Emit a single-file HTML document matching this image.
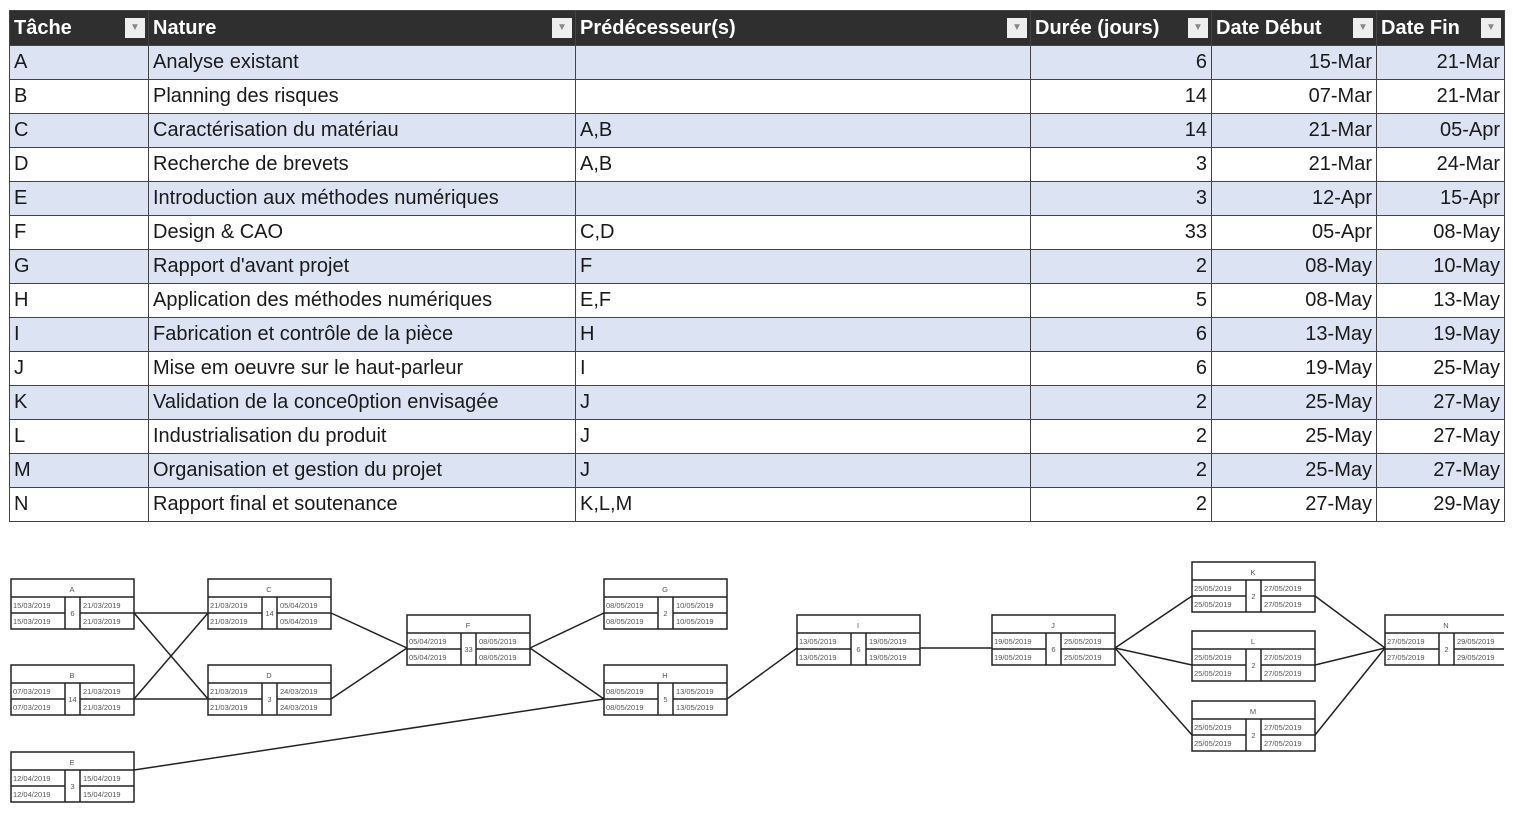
<!DOCTYPE html>
<html><head><meta charset="utf-8"><style>
body{margin:0;width:1513px;height:820px;background:#fff;overflow:hidden;position:relative;font-family:"Liberation Sans",sans-serif}
table{position:absolute;left:9px;top:10px;border-collapse:collapse;width:1495px;table-layout:fixed;font-size:20px;color:#1a1a1a}
td,th{border:1.5px solid #444;padding:0 4px;height:33px;white-space:nowrap;overflow:hidden}
th{background:#2f2f2f;color:#fff;text-align:left;font-weight:bold;height:34px;position:relative}
th span.f{position:absolute;right:3px;top:7px;width:20px;height:20px;background:#eee;color:#888;font-size:10px;text-align:center;line-height:20px}
tr:nth-child(even) td{background:#dce3f3}
td.r{text-align:right}
svg{position:absolute;left:0;top:0}
svg text{font-family:"Liberation Sans",sans-serif;font-size:7.5px;fill:#555}
</style></head><body>
<table>
<colgroup><col style="width:139px"><col style="width:427px"><col style="width:455px"><col style="width:181px"><col style="width:165px"><col style="width:128px"></colgroup>
<tr><th>Tâche<span class="f">▼</span></th><th>Nature<span class="f">▼</span></th><th>Prédécesseur(s)<span class="f">▼</span></th><th>Durée (jours)<span class="f">▼</span></th><th>Date Début<span class="f">▼</span></th><th>Date Fin<span class="f">▼</span></th></tr>
<tr><td>A</td><td>Analyse existant</td><td></td><td class="r">6</td><td class="r">15-Mar</td><td class="r">21-Mar</td></tr>
<tr><td>B</td><td>Planning des risques</td><td></td><td class="r">14</td><td class="r">07-Mar</td><td class="r">21-Mar</td></tr>
<tr><td>C</td><td>Caractérisation du matériau</td><td>A,B</td><td class="r">14</td><td class="r">21-Mar</td><td class="r">05-Apr</td></tr>
<tr><td>D</td><td>Recherche de brevets</td><td>A,B</td><td class="r">3</td><td class="r">21-Mar</td><td class="r">24-Mar</td></tr>
<tr><td>E</td><td>Introduction aux méthodes numériques</td><td></td><td class="r">3</td><td class="r">12-Apr</td><td class="r">15-Apr</td></tr>
<tr><td>F</td><td>Design &amp; CAO</td><td>C,D</td><td class="r">33</td><td class="r">05-Apr</td><td class="r">08-May</td></tr>
<tr><td>G</td><td>Rapport d'avant projet</td><td>F</td><td class="r">2</td><td class="r">08-May</td><td class="r">10-May</td></tr>
<tr><td>H</td><td>Application des méthodes numériques</td><td>E,F</td><td class="r">5</td><td class="r">08-May</td><td class="r">13-May</td></tr>
<tr><td>I</td><td>Fabrication et contrôle de la pièce</td><td>H</td><td class="r">6</td><td class="r">13-May</td><td class="r">19-May</td></tr>
<tr><td>J</td><td>Mise em oeuvre sur le haut-parleur</td><td>I</td><td class="r">6</td><td class="r">19-May</td><td class="r">25-May</td></tr>
<tr><td>K</td><td>Validation de la conce0ption envisagée</td><td>J</td><td class="r">2</td><td class="r">25-May</td><td class="r">27-May</td></tr>
<tr><td>L</td><td>Industrialisation du produit</td><td>J</td><td class="r">2</td><td class="r">25-May</td><td class="r">27-May</td></tr>
<tr><td>M</td><td>Organisation et gestion du projet</td><td>J</td><td class="r">2</td><td class="r">25-May</td><td class="r">27-May</td></tr>
<tr><td>N</td><td>Rapport final et soutenance</td><td>K,L,M</td><td class="r">2</td><td class="r">27-May</td><td class="r">29-May</td></tr>
</table>
<svg width="1513" height="820" viewBox="0 0 1513 820">
<defs>
<g id="box" fill="none" stroke="#222" stroke-width="1.5">
<rect x="0" y="0" width="123" height="50"/>
<line x1="0" y1="18" x2="123" y2="18"/>
<line x1="0" y1="34" x2="54" y2="34"/>
<line x1="69" y1="34" x2="123" y2="34"/>
<line x1="54" y1="18" x2="54" y2="50"/>
<line x1="69" y1="18" x2="69" y2="50"/>
</g>
</defs>
<g stroke="#222" stroke-width="1.5" fill="none">
<line x1="134" y1="613" x2="208" y2="613"/>
<line x1="134" y1="613" x2="208" y2="699"/>
<line x1="134" y1="699" x2="208" y2="613"/>
<line x1="134" y1="699" x2="208" y2="699"/>
<line x1="331" y1="613" x2="407" y2="648"/>
<line x1="331" y1="699" x2="407" y2="648"/>
<line x1="530" y1="648" x2="604" y2="613"/>
<line x1="530" y1="648" x2="604" y2="699"/>
<line x1="134" y1="770" x2="604" y2="699"/>
<line x1="727" y1="699" x2="797" y2="648"/>
<line x1="920" y1="648" x2="992" y2="648"/>
<line x1="1115" y1="648" x2="1192" y2="596"/>
<line x1="1115" y1="648" x2="1192" y2="665"/>
<line x1="1115" y1="648" x2="1192" y2="735"/>
<line x1="1315" y1="596" x2="1385" y2="648"/>
<line x1="1315" y1="665" x2="1385" y2="648"/>
<line x1="1315" y1="735" x2="1385" y2="648"/>
</g>
<g transform="translate(11,579)"><use href="#box"/><text x="61" y="13" text-anchor="middle">A</text><text x="2" y="29">15/03/2019</text><text x="2" y="45">15/03/2019</text><text x="61.5" y="37" text-anchor="middle">6</text><text x="72" y="29">21/03/2019</text><text x="72" y="45">21/03/2019</text></g>
<g transform="translate(11,665)"><use href="#box"/><text x="61" y="13" text-anchor="middle">B</text><text x="2" y="29">07/03/2019</text><text x="2" y="45">07/03/2019</text><text x="61.5" y="37" text-anchor="middle">14</text><text x="72" y="29">21/03/2019</text><text x="72" y="45">21/03/2019</text></g>
<g transform="translate(11,752)"><use href="#box"/><text x="61" y="13" text-anchor="middle">E</text><text x="2" y="29">12/04/2019</text><text x="2" y="45">12/04/2019</text><text x="61.5" y="37" text-anchor="middle">3</text><text x="72" y="29">15/04/2019</text><text x="72" y="45">15/04/2019</text></g>
<g transform="translate(208,579)"><use href="#box"/><text x="61" y="13" text-anchor="middle">C</text><text x="2" y="29">21/03/2019</text><text x="2" y="45">21/03/2019</text><text x="61.5" y="37" text-anchor="middle">14</text><text x="72" y="29">05/04/2019</text><text x="72" y="45">05/04/2019</text></g>
<g transform="translate(208,665)"><use href="#box"/><text x="61" y="13" text-anchor="middle">D</text><text x="2" y="29">21/03/2019</text><text x="2" y="45">21/03/2019</text><text x="61.5" y="37" text-anchor="middle">3</text><text x="72" y="29">24/03/2019</text><text x="72" y="45">24/03/2019</text></g>
<g transform="translate(407,615)"><use href="#box"/><text x="61" y="13" text-anchor="middle">F</text><text x="2" y="29">05/04/2019</text><text x="2" y="45">05/04/2019</text><text x="61.5" y="37" text-anchor="middle">33</text><text x="72" y="29">08/05/2019</text><text x="72" y="45">08/05/2019</text></g>
<g transform="translate(604,579)"><use href="#box"/><text x="61" y="13" text-anchor="middle">G</text><text x="2" y="29">08/05/2019</text><text x="2" y="45">08/05/2019</text><text x="61.5" y="37" text-anchor="middle">2</text><text x="72" y="29">10/05/2019</text><text x="72" y="45">10/05/2019</text></g>
<g transform="translate(604,665)"><use href="#box"/><text x="61" y="13" text-anchor="middle">H</text><text x="2" y="29">08/05/2019</text><text x="2" y="45">08/05/2019</text><text x="61.5" y="37" text-anchor="middle">5</text><text x="72" y="29">13/05/2019</text><text x="72" y="45">13/05/2019</text></g>
<g transform="translate(797,615)"><use href="#box"/><text x="61" y="13" text-anchor="middle">I</text><text x="2" y="29">13/05/2019</text><text x="2" y="45">13/05/2019</text><text x="61.5" y="37" text-anchor="middle">6</text><text x="72" y="29">19/05/2019</text><text x="72" y="45">19/05/2019</text></g>
<g transform="translate(992,615)"><use href="#box"/><text x="61" y="13" text-anchor="middle">J</text><text x="2" y="29">19/05/2019</text><text x="2" y="45">19/05/2019</text><text x="61.5" y="37" text-anchor="middle">6</text><text x="72" y="29">25/05/2019</text><text x="72" y="45">25/05/2019</text></g>
<g transform="translate(1192,562)"><use href="#box"/><text x="61" y="13" text-anchor="middle">K</text><text x="2" y="29">25/05/2019</text><text x="2" y="45">25/05/2019</text><text x="61.5" y="37" text-anchor="middle">2</text><text x="72" y="29">27/05/2019</text><text x="72" y="45">27/05/2019</text></g>
<g transform="translate(1192,631)"><use href="#box"/><text x="61" y="13" text-anchor="middle">L</text><text x="2" y="29">25/05/2019</text><text x="2" y="45">25/05/2019</text><text x="61.5" y="37" text-anchor="middle">2</text><text x="72" y="29">27/05/2019</text><text x="72" y="45">27/05/2019</text></g>
<g transform="translate(1192,701)"><use href="#box"/><text x="61" y="13" text-anchor="middle">M</text><text x="2" y="29">25/05/2019</text><text x="2" y="45">25/05/2019</text><text x="61.5" y="37" text-anchor="middle">2</text><text x="72" y="29">27/05/2019</text><text x="72" y="45">27/05/2019</text></g>
<g transform="translate(1385,615)"><use href="#box"/><text x="61" y="13" text-anchor="middle">N</text><text x="2" y="29">27/05/2019</text><text x="2" y="45">27/05/2019</text><text x="61.5" y="37" text-anchor="middle">2</text><text x="72" y="29">29/05/2019</text><text x="72" y="45">29/05/2019</text></g>
<rect x="1504" y="540" width="9" height="280" fill="#fff"/>
</svg>
</body></html>
